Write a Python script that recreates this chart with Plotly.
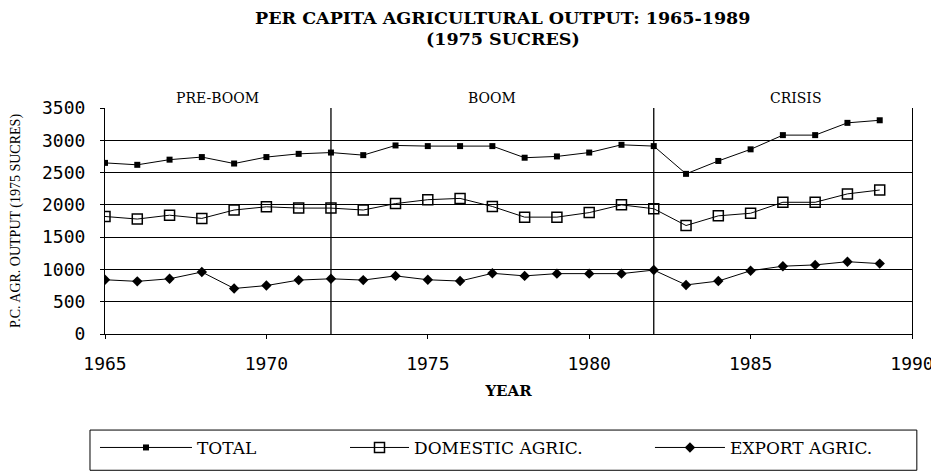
import plotly.graph_objects as go

years = list(range(1965, 1990))
total = [2650, 2620, 2700, 2740, 2640, 2740, 2790, 2810, 2770, 2920, 2910, 2910,
         2910, 2730, 2750, 2810, 2930, 2910, 2480, 2680, 2860, 3080, 3080, 3270, 3310]
domestic = [1820, 1780, 1840, 1790, 1920, 1970, 1950, 1950, 1920, 2020, 2080, 2100,
            1975, 1810, 1810, 1880, 2000, 1940, 1680, 1830, 1870, 2040, 2040, 2170, 2230]
export = [840, 815, 855, 960, 705, 750, 835, 855, 835, 900, 840, 820,
          940, 900, 935, 935, 935, 990, 760, 820, 980, 1050, 1070, 1120, 1090]

period_breaks = [1972, 1982]
period_labels = ["PRE-BOOM", "BOOM", "CRISIS"]
period_label_x = [1968.5, 1977, 1986.4]

series_names = ["TOTAL", "DOMESTIC AGRIC.", "EXPORT AGRIC."]
title_lines = ["PER CAPITA AGRICULTURAL OUTPUT: 1965-1989", "(1975 SUCRES)"]

fig = go.Figure()
fig.add_trace(go.Scatter(x=years, y=total, name=series_names[0], mode="lines+markers",
                         legend="legend",
                         line=dict(color="black", width=1),
                         marker=dict(symbol="square", size=6, color="black")))
fig.add_trace(go.Scatter(x=years, y=domestic, name=series_names[1], mode="lines+markers",
                         legend="legend2",
                         line=dict(color="black", width=1),
                         marker=dict(symbol="square-open", size=10, color="black",
                                     line=dict(width=1.5, color="black"))))
fig.add_trace(go.Scatter(x=years, y=export, name=series_names[2], mode="lines+markers",
                         legend="legend3",
                         line=dict(color="black", width=1),
                         marker=dict(symbol="diamond", size=8, color="black")))

for b in period_breaks:
    fig.add_shape(type="line", x0=b, x1=b, y0=0, y1=3500, xref="x", yref="y",
                  line=dict(color="black", width=1.3))

for lbl, lx in zip(period_labels, period_label_x):
    fig.add_annotation(x=lx, y=1.044, xref="x", yref="paper", text=lbl, showarrow=False,
                       yanchor="middle",
                       font=dict(family="DejaVu Serif", size=14, color="black"))

for txt, ty in zip(title_lines, [1.4004, 1.3031]):
    fig.add_annotation(x=0.493, y=ty, xref="paper", yref="paper", text="<b>" + txt + "</b>",
                       showarrow=False, xanchor="center", yanchor="middle",
                       font=dict(family="DejaVu Serif", size=17.5, color="black"))

# legend frame
fig.add_shape(type="rect", xref="paper", yref="paper",
              x0=-0.0186, x1=1.006, y0=-0.425, y1=-0.603,
              line=dict(color="black", width=1), fillcolor="rgba(0,0,0,0)")

legend_font = dict(family="DejaVu Serif", size=17, color="black")
legend_common = dict(orientation="h", xanchor="left", y=-0.504, yanchor="middle",
                     borderwidth=0, bgcolor="rgba(0,0,0,0)", font=legend_font)

fig.update_layout(
    width=931, height=464,
    margin=dict(l=97, r=27, t=100, b=138, autoexpand=False),
    paper_bgcolor="white", plot_bgcolor="white",
    showlegend=True,
    legend=dict(x=-0.0124, itemwidth=92, **legend_common),
    legend2=dict(x=0.2974, itemwidth=59, **legend_common),
    legend3=dict(x=0.6753, itemwidth=70, **legend_common),
)
fig.update_xaxes(range=[1965, 1990], tickvals=[1965, 1970, 1975, 1980, 1985, 1990],
                 showgrid=False, showline=True, linecolor="black", linewidth=1,
                 mirror=False, ticks="outside", ticklen=4, tickcolor="black",
                 ticklabelstandoff=9,
                 zeroline=False, automargin=False,
                 tickfont=dict(family="DejaVu Sans Mono", size=18, color="black"),
                 title=dict(text="<b>YEAR</b>", standoff=12,
                            font=dict(family="DejaVu Serif", size=15, color="black")))
fig.update_yaxes(range=[0, 3500], tickvals=[0, 500, 1000, 1500, 2000, 2500, 3000, 3500],
                 showgrid=True, gridcolor="black", gridwidth=1,
                 showline=True, linecolor="black", linewidth=1, mirror=True,
                 ticks="outside", ticklen=4, tickcolor="black", zeroline=False,
                 ticklabelstandoff=11,
                 automargin=False,
                 tickfont=dict(family="DejaVu Sans Mono", size=18, color="black"),
                 title=dict(text="P.C. AGR. OUTPUT (1975 SUCRES)", standoff=20,
                            font=dict(family="Liberation Serif", size=14, color="black")))

fig.write_html("out.html")
